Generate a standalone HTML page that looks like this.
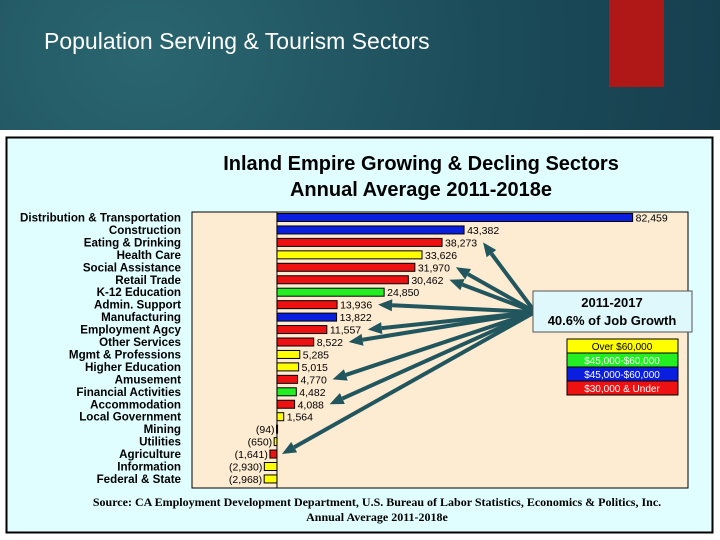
<!DOCTYPE html>
<html><head><meta charset="utf-8"><style>
body{margin:0;width:720px;height:540px;overflow:hidden;background:radial-gradient(ellipse at 20% 10%,#2a6670 0%,#1b4a58 45%,#123545 100%);font-family:"Liberation Sans",sans-serif;position:relative}
.abs{position:absolute}
</style></head><body>
<div class="abs" style="left:44px;top:28px;color:#fff;font-size:23px">Population Serving &amp; Tourism Sectors</div>
<div class="abs" style="left:609px;top:0;width:55px;height:87px;background:#b01818"></div>
<div class="abs" style="left:0;top:130px;width:720px;height:410px;background:#fff"></div>
<svg class="abs" style="left:0;top:0" width="720" height="540">
<rect x="6.5" y="137.5" width="706" height="395" fill="#e0fdff" stroke="#000" stroke-width="2"/>
<text x="421" y="170" text-anchor="middle" font-size="20" font-weight="bold">Inland Empire Growing &amp; Decling Sectors</text>
<text x="421" y="196" text-anchor="middle" font-size="20" font-weight="bold">Annual Average 2011-2018e</text>
<rect x="192" y="212" width="496" height="276" fill="#fdebd2" stroke="#000"/>
<g id="bars"></g>
<g id="arrows" fill="#22565e" stroke="#22565e"></g>
<rect x="533" y="291" width="159" height="41" fill="#dff8fc" stroke="#555"/>
<text x="612" y="307" text-anchor="middle" font-size="13" font-weight="bold">2011-2017</text>
<text x="612" y="325" text-anchor="middle" font-size="13" font-weight="bold">40.6%  of Job Growth</text>
<g id="legend"></g>
<text x="377" y="506" text-anchor="middle" font-family="Liberation Serif,serif" font-size="12" font-weight="bold">Source:  CA Employment Development Department, U.S. Bureau of Labor Statistics, Economics &amp; Politics, Inc.</text>
<text x="377" y="521" text-anchor="middle" font-family="Liberation Serif,serif" font-size="12" font-weight="bold">Annual Average 2011-2018e</text>
</svg>
<script>
const categories=["Distribution & Transportation","Construction","Eating & Drinking","Health Care","Social Assistance","Retail Trade","K-12 Education","Admin. Support","Manufacturing","Employment Agcy","Other Services","Mgmt & Professions","Higher Education","Amusement","Financial Activities","Accommodation","Local Government","Mining","Utilities","Agriculture","Information","Federal & State"];
const values=[82459,43382,38273,33626,31970,30462,24850,13936,13822,11557,8522,5285,5015,4770,4482,4088,1564,-94,-650,-1641,-2930,-2968];
const wageClass=["b","b","r","y","r","r","g","r","b","r","r","y","y","r","g","r","y","y","y","r","y","y"];
const legendLabels=["Over $60,000","$45,000-$60,000","$45,000-$60,000","$30,000 & Under"];
const legendClass=["y","g","b","r"];
const arrowTargets=["Eating & Drinking","Social Assistance","Retail Trade","Admin. Support","Employment Agcy","Other Services","Amusement","Accommodation","Agriculture"];
const col={y:"#ffff00",g:"#22ee22",b:"#0a1ee0",r:"#ee1111"};
const NS="http://www.w3.org/2000/svg";
const x0=192,x1=688,dMin=-19700,dMax=95300;
const xs=v=>x0+(v-dMin)/(dMax-dMin)*(x1-x0);
const rowY=i=>217.5+i*12.45;
const svg=document.querySelector("svg");
function mk(tag,a,parent){const e=document.createElementNS(NS,tag);for(const k in a)e.setAttribute(k,a[k]);(parent||svg).appendChild(e);return e;}
const bars=document.getElementById("bars");
const fmt=v=>v<0?"("+Math.abs(v).toLocaleString("en-US")+")":v.toLocaleString("en-US");
categories.forEach((c,i)=>{
 const y=rowY(i),v=values[i],a=xs(0),b=xs(v);
 const t=mk("text",{x:181,y:y+4,"text-anchor":"end","font-size":"11.6","font-weight":"bold"},bars);t.textContent=c;
 
 
 const r=mk("rect",{x:Math.min(a,b),y:y-4,width:Math.max(Math.abs(b-a),1),height:8,fill:col[wageClass[i]],stroke:"#000","stroke-width":"1"},bars);
 
 
 const l=mk("text",{x:v>=0?b+3:Math.min(a,b)-2,y:y+4,"text-anchor":v>=0?"start":"end","font-size":"10.5"},bars);l.textContent=fmt(v);
 
 
});
mk("line",{x1:xs(0),y1:212,x2:xs(0),y2:488,stroke:"#000"},bars);
const arrows=document.getElementById("arrows");
const ox=535,oy=312;
arrowTargets.forEach(n=>{
 const i=categories.indexOf(n),v=values[i];
 let tx=v>=0?xs(v)+3+fmt(v).length*6+2:xs(0)+5,ty=rowY(i);
 const dx=tx-ox,dy=ty-oy,L=Math.hypot(dx,dy),ux=dx/L,uy=dy/L;
 const bx=tx-ux*14,by=ty-uy*14;
 const ln=mk("line",{x1:ox,y1:oy,x2:bx,y2:by,"stroke-width":"4"},arrows);
 
 
 const h=mk("polygon",{points:`${tx},${ty} ${bx-uy*6},${by+ux*6} ${bx+uy*6},${by-ux*6}`,stroke:"none"},arrows);
 
 
});
const lg=document.getElementById("legend");
legendLabels.forEach((t,i)=>{
 const y=339+i*14;
 const r=mk("rect",{x:567,y:y,width:111,height:14,fill:col[legendClass[i]],stroke:"#000"},lg);
 
 
 const tt=mk("text",{x:622,y:y+11,"text-anchor":"middle","font-size":"10",fill:legendClass[i]==="y"?"#000":"#fff"},lg);tt.textContent=t;
 
 
});
</script>
</body></html>
